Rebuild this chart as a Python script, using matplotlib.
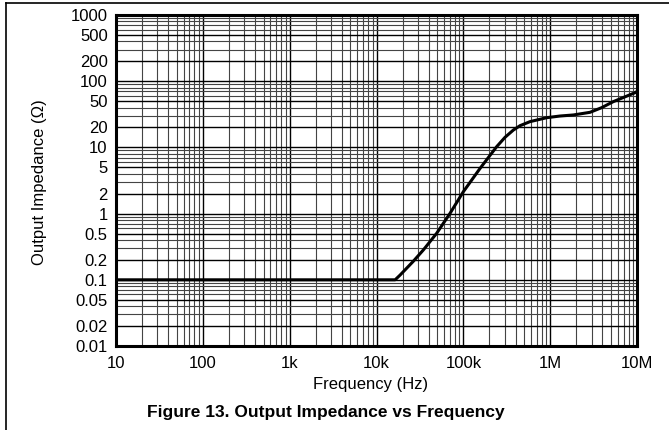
import matplotlib
matplotlib.use("Agg")
import matplotlib.pyplot as plt
from matplotlib.lines import Line2D
from matplotlib.ticker import FixedLocator, NullFormatter, LogLocator

plt.rcParams["font.family"] = ["Liberation Sans", "DejaVu Sans"]

# curve (Hz, ohm)
freq = [10, 100, 1e3, 1e4, 16.4e3, 18.7e3, 26.5e3, 34.6e3, 49.3e3, 70.3e3, 100e3,
        156e3, 242e3, 302e3, 377e3, 450e3, 586e3, 912e3, 1.3e6, 1.85e6, 2.88e6,
        3.91e6, 5.33e6, 9.48e6, 10e6]
zout = [0.1, 0.1, 0.1, 0.1, 0.1, 0.118, 0.19, 0.282, 0.504, 1.01, 2.14,
        4.83, 10.25, 14.2, 18.3, 21.3, 24.5, 28.1, 29.8, 30.9, 33.9,
        39.8, 49.1, 67, 70]

yticks = [0.01, 0.02, 0.05, 0.1, 0.2, 0.5, 1, 2, 5, 10, 20, 50, 100, 200, 500, 1000]
ylabels = ["0.01", "0.02", "0.05", "0.1", "0.2", "0.5", "1", "2", "5", "10", "20",
           "50", "100", "200", "500", "1000"]
xticks = [10, 100, 1e3, 1e4, 1e5, 1e6, 1e7]
xlabels = ["10", "100", "1k", "10k", "100k", "1M", "10M"]

fig = plt.figure(figsize=(6.69, 4.30), dpi=100)
ax = fig.add_axes([116 / 669, 1 - 346 / 430, 521 / 669, 331 / 430])

ax.plot(freq, zout, color="black", lw=2.2, zorder=5, solid_joinstyle="round")
ax.set_xscale("log"); ax.set_yscale("log")
ax.set_xlim(10, 1e7); ax.set_ylim(0.01, 1000)

ax.xaxis.set_major_locator(FixedLocator(xticks))
ax.set_xticklabels(xlabels)
ax.xaxis.set_minor_locator(LogLocator(base=10, subs=range(2, 10), numticks=20))
ax.xaxis.set_minor_formatter(NullFormatter())
ax.yaxis.set_major_locator(FixedLocator(yticks))
ax.set_yticklabels(ylabels)
ax.yaxis.set_minor_locator(LogLocator(base=10, subs=range(2, 10), numticks=20))
ax.yaxis.set_minor_formatter(NullFormatter())

ax.grid(which="major", color="black", lw=1.0)
ax.grid(which="minor", color="#444444", lw=0.8)
ax.tick_params(which="both", length=0, labelsize=12)
ax.tick_params(axis="y", pad=6)
ax.tick_params(axis="x", pad=7)
for s in ax.spines.values():
    s.set_linewidth(2.2)

fig.text(371 / 669, 1 - 385 / 430, "Frequency (Hz)", ha="center", va="center", fontsize=12)
fig.text(40 / 669, 1 - 182 / 430, "Output Impedance (\u03a9)", ha="center", va="center",
         rotation=90, fontsize=12)
fig.text(326 / 669, 1 - 413 / 430, "Figure 13. Output Impedance vs Frequency",
         ha="center", va="center", fontsize=12.5, fontweight="bold")

# figure frame (top and left edges)
fig.add_artist(Line2D([6 / 669, 1], [1 - 3 / 430, 1 - 3 / 430], color="black", lw=1.2,
                      transform=fig.transFigure))
fig.add_artist(Line2D([6 / 669, 6 / 669], [0, 1 - 3 / 430], color="black", lw=1.2,
                      transform=fig.transFigure))

fig.savefig("out.png", dpi=100)
plt.close(fig)
